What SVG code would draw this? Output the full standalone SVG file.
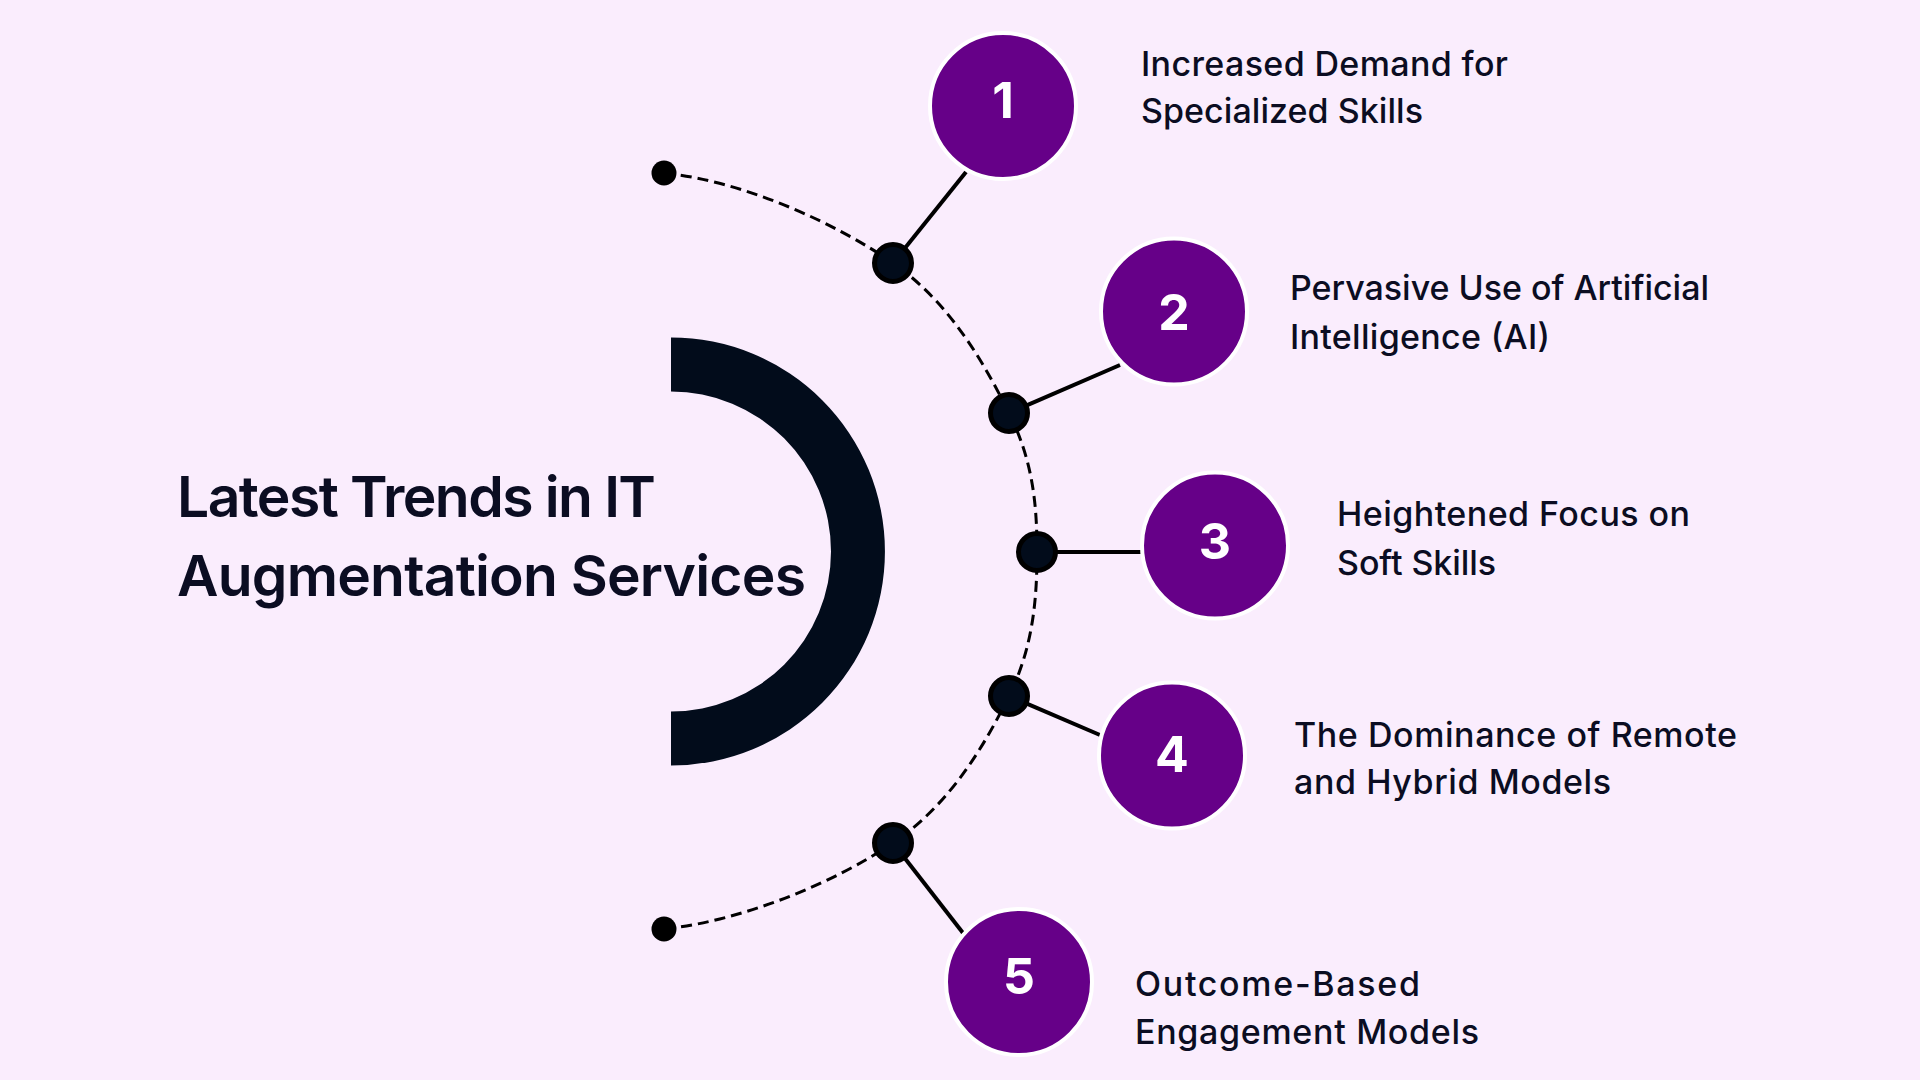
<svg xmlns="http://www.w3.org/2000/svg" width="1920" height="1080" viewBox="0 0 1920 1080">
  <style>
    .bg { fill: #FAEDFD; }
    .title { font-family: Inter, "Liberation Sans", sans-serif; font-weight: 600; font-size: 57px; fill: #0B0D22; }
    .label { font-family: Inter, "Liberation Sans", sans-serif; font-weight: 500; font-size: 34px; fill: #0B0D22; }
    .num { font-family: Inter, "Liberation Sans", sans-serif; font-weight: 700; font-size: 50px; fill: #FFFFFF; text-anchor: middle; }
    .badge { fill: #660088; stroke: #FFFFFF; stroke-width: 4; }
    .dot { fill: #020C1B; stroke: #000000; stroke-width: 5; }
    .end { fill: #000000; }
    .dash { fill: none; stroke: #000000; stroke-width: 3; stroke-dasharray: 11 6; }
    .link { stroke: #000000; stroke-width: 4; stroke-linecap: butt; }
  </style>
  <rect class="bg" x="0" y="0" width="1920" height="1080"/>

  <g id="title">
    <path d="M 671 337.5 A 214 214 0 0 1 671 765.5 L 671 711.5 A 160 160 0 0 0 671 391.5 Z" fill="#020C1B"/>
    <text class="title" x="177" y="517" textLength="479" lengthAdjust="spacing">Latest Trends in IT</text>
    <text class="title" x="177" y="596" textLength="629" lengthAdjust="spacing">Augmentation Services</text>
  </g>

  <g id="connectors">
    <path class="dash" d="M 664 173 C 744 181.3 835.5 223 893 263 C 950.5 303 985 364.8 1009 413 C 1033 461.2 1037 504.8 1037 552 C 1037 599.2 1033 647.5 1009 696 C 985 744.5 950.5 804.2 893 843 C 835.5 881.8 744 920.7 664 929"/>
    <line class="link" x1="893" y1="263" x2="966" y2="172"/>
    <line class="link" x1="1009" y1="413" x2="1120" y2="365"/>
    <line class="link" x1="1037" y1="552" x2="1141" y2="552"/>
    <line class="link" x1="1009" y1="696" x2="1100" y2="735"/>
    <line class="link" x1="893" y1="843" x2="963" y2="933"/>
    <circle class="end" cx="664" cy="173" r="12.5"/>
    <circle class="end" cx="664" cy="929" r="12.5"/>
    <circle class="dot" cx="893" cy="263" r="18.5"/>
    <circle class="dot" cx="1009" cy="413" r="18.5"/>
    <circle class="dot" cx="1037" cy="552" r="18.5"/>
    <circle class="dot" cx="1009" cy="696" r="18.5"/>
    <circle class="dot" cx="893" cy="843" r="18.5"/>
  </g>

  <g id="node1">
    <circle class="badge" cx="1003" cy="106" r="73"/>
    <text class="num" x="1003" y="118">1</text>
    <text class="label" x="1141" y="76" textLength="367" lengthAdjust="spacing">Increased Demand for</text>
    <text class="label" x="1141" y="123" textLength="282" lengthAdjust="spacing">Specialized Skills</text>
  </g>

  <g id="node2">
    <circle class="badge" cx="1174" cy="311.5" r="73"/>
    <text class="num" x="1174" y="330">2</text>
    <text class="label" x="1290" y="300" textLength="419" lengthAdjust="spacing">Pervasive Use of Artificial</text>
    <text class="label" x="1290" y="349" textLength="260" lengthAdjust="spacing">Intelligence (AI)</text>
  </g>

  <g id="node3">
    <circle class="badge" cx="1215" cy="545.5" r="73"/>
    <text class="num" x="1215" y="559">3</text>
    <text class="label" x="1337" y="526" textLength="353" lengthAdjust="spacing">Heightened Focus on</text>
    <text class="label" x="1337" y="575" textLength="159" lengthAdjust="spacing">Soft Skills</text>
  </g>

  <g id="node4">
    <circle class="badge" cx="1172" cy="755.5" r="73"/>
    <text class="num" x="1172" y="772">4</text>
    <text class="label" x="1294" y="747" textLength="443" lengthAdjust="spacing">The Dominance of Remote</text>
    <text class="label" x="1294" y="794" textLength="317" lengthAdjust="spacing">and Hybrid Models</text>
  </g>

  <g id="node5">
    <circle class="badge" cx="1019" cy="982" r="73"/>
    <text class="num" x="1019" y="994">5</text>
    <text class="label" x="1135" y="996" textLength="285" lengthAdjust="spacing">Outcome-Based</text>
    <text class="label" x="1135" y="1044" textLength="344" lengthAdjust="spacing">Engagement Models</text>
  </g>
</svg>
